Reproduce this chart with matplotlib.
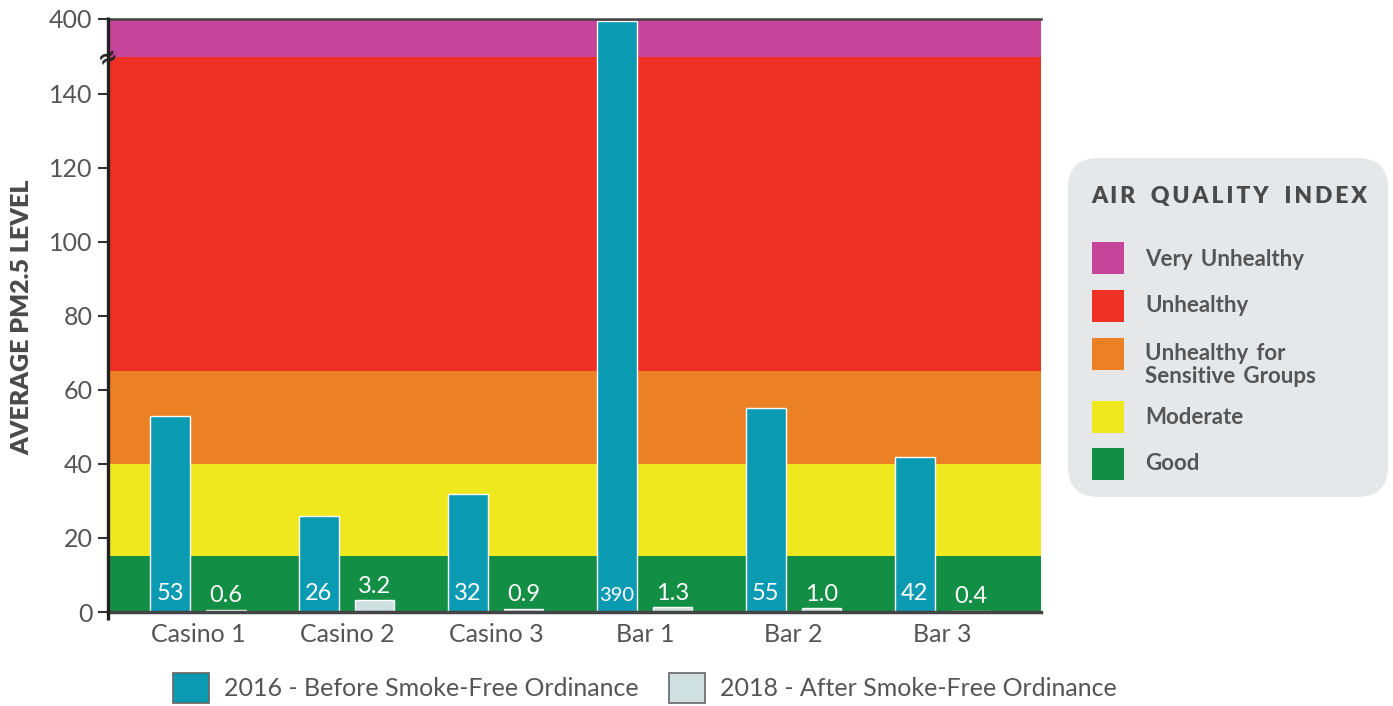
import numpy as np
import matplotlib.pyplot as plt
from matplotlib.patches import FancyBboxPatch, Rectangle

plt.rcParams['font.family'] = ['Lato', 'DejaVu Sans']

# data
venues = ["Casino 1", "Casino 2", "Casino 3", "Bar 1", "Bar 2", "Bar 3"]
pm_2016 = [53, 26, 32, 390, 55, 42]
pm_2018 = [0.6, 3.2, 0.9, 1.3, 1.0, 0.4]
labels_2016 = ["53", "26", "32", "390", "55", "42"]
labels_2018 = ["0.6", "3.2", "0.9", "1.3", "1.0", "0.4"]

aqi_names = ["Very Unhealthy", "Unhealthy", "Unhealthy for\nSensitive Groups", "Moderate", "Good"]
aqi_low = [150, 65, 40, 15, 0]
aqi_high = [400, 150, 65, 40, 15]
aqi_colors = ["#c6449a", "#ee3124", "#ec8024", "#efe81f", "#138f45"]

yticks = [0, 20, 40, 60, 80, 100, 120, 140, 400]

BLUE = "#0a9bb3"
LIGHT = "#cfe0e3"
TXT = "#555555"

# broken axis: 0-150 linear, 150-400 squeezed
K = 0.04108
def fwd(v):
    v = np.asarray(v, dtype=float)
    return np.where(v <= 150, v, 150 + (v - 150) * K)
def inv(t):
    t = np.asarray(t, dtype=float)
    return np.where(t <= 150, t, 150 + (t - 150) / K)

W, H = 1393, 706
fig = plt.figure(figsize=(W / 100, H / 100), dpi=100)
def fx(x): return x / W
def fy(y): return 1 - y / H

ax = fig.add_axes([fx(108), fy(612), fx(1041) - fx(108), fy(19) - fy(612)])
ax.set_yscale('function', functions=(fwd, inv))
ax.set_ylim(0, 400)

for lo, hi, c in zip(aqi_low, aqi_high, aqi_colors):
    ax.axhspan(lo, hi, color=c, lw=0, zorder=0)

x = np.arange(len(venues))
bw = 0.265
off = 0.187
b1 = ax.bar(x - off, pm_2016, bw, color=BLUE, edgecolor="white", lw=1.0, zorder=2,
            label="2016 - Before Smoke-Free Ordinance")
b2 = ax.bar(x + off, pm_2018, bw, color=LIGHT, edgecolor="white", lw=1.0, zorder=2,
            label="2018 - After Smoke-Free Ordinance")

for xi, lab in zip(x, labels_2016):
    fs = 14.5 if len(lab) > 2 else 17
    ax.annotate(lab, (xi - off, 0), xytext=(0, 6), textcoords="offset points",
                ha="center", va="bottom", color="white", fontsize=fs, zorder=3)
for xi, v, lab in zip(x, pm_2018, labels_2018):
    ax.annotate(lab, (xi + off, v), xytext=(0, 2.5), textcoords="offset points",
                ha="center", va="bottom", color="white", fontsize=17, zorder=3)

ax.set_xlim(-0.604, 5.66)
ax.set_xticks(x)
ax.set_xticklabels(venues, fontsize=18, color=TXT)
ax.tick_params(axis="x", length=0, pad=8)

ax.set_yticks(yticks)
ax.set_yticklabels([str(t) for t in yticks], fontsize=18, color=TXT)
ax.tick_params(axis="y", length=7, width=1.5, color="#333333", pad=4)

for s in ["left", "right", "top"]:
    ax.spines[s].set_visible(False)
ax.spines["bottom"].set_color("#444444")
ax.spines["bottom"].set_linewidth(2.5)
ax.spines["bottom"].set_zorder(4)
ax.axhline(400, color="#444444", lw=1.8, zorder=4, clip_on=False)
ax.plot([0, 0], [-0.013, 1.004], transform=ax.transAxes, color="#222222",
        lw=2.4, clip_on=False, zorder=5, solid_capstyle="butt")
ax.text(0, 150, "≈", transform=ax.get_yaxis_transform(), ha="center", va="center",
        fontsize=17, fontweight="bold", color="#222222", zorder=6, rotation=25,
        family="DejaVu Sans")

fig.text(fx(22), fy(317), "AVERAGE PM2.5 LEVEL", rotation=90, ha="center", va="center",
         fontsize=18, fontweight="heavy", color="#4a4a4a")

# AQI key box
box = FancyBboxPatch((fx(1068), fy(497)), fx(1388) - fx(1068), fy(158) - fy(497),
                     boxstyle="round,pad=0,rounding_size=0.022", transform=fig.transFigure,
                     facecolor="#e6e7e9", edgecolor="none", mutation_aspect=W / H)
fig.patches.append(box)
fig.text(fx(1229), fy(196), "\u2009".join("AIR QUALITY INDEX").replace("\u2009 \u2009", "   "),
         ha="center", va="center", fontsize=16.5, fontweight="heavy", color="#4a4a4a")
key_y = [258, 306, 354, 417, 464]
label_y = [259, 305, 365, 417, 463]
for name, c, sy, ly in zip(aqi_names, aqi_colors, key_y, label_y):
    fig.patches.append(Rectangle((fx(1092), fy(sy + 16)), fx(32), 32 / H,
                                 transform=fig.transFigure, facecolor=c, edgecolor="none"))
    fig.text(fx(1145), fy(ly), name.replace(" ", "\u2009 "), ha="left", va="center",
             fontsize=16, fontweight="bold", color="#555555", linespacing=1.15)

# bottom legend
fig.legend(handles=[b1, b2], loc="center", bbox_to_anchor=(fx(645), fy(688)), ncol=2,
           frameon=False, fontsize=18, handlelength=1.45, handleheight=1.45,
           handletextpad=0.6, columnspacing=1.2, labelcolor=TXT,
           )
leg = fig.legends[0]
for h in leg.legend_handles:
    h.set_edgecolor("#666666")
    h.set_linewidth(1.2)

fig.savefig("out.png", dpi=100)
